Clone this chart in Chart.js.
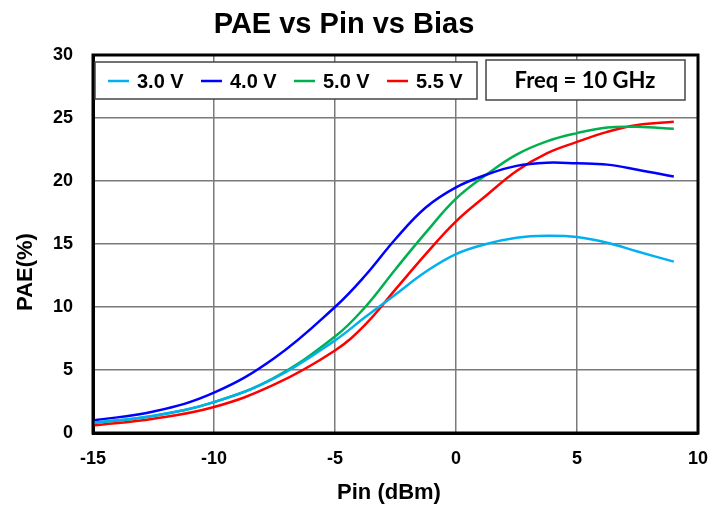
<!DOCTYPE html>
<html>
<head>
<meta charset="utf-8">
<script src="https://cdn.jsdelivr.net/npm/chart.js@4.4.0/dist/chart.umd.min.js"></script>
<style>
  html, body { margin: 0; padding: 0; background: #fff; }
  #wrap { width: 724px; height: 506px; position: relative; }
</style>
</head>
<body>
<div id="wrap"><canvas id="chartPae"></canvas></div>
<script>
  var pin = [-15, -12.5, -10, -7.5, -5, -3.75, -2.5, -1.25, 0, 1.25, 2.5, 3.75, 5, 6.25, 7.5, 9];
  var pae30 = [0.8, 1.37, 2.45, 4.35, 7.35, 9.2, 11.0, 12.8, 14.2, 15.0, 15.5, 15.65, 15.55, 15.1, 14.4, 13.6];
  var pae40 = [1.0, 1.7, 3.2, 5.95, 10.0, 12.5, 15.4, 17.9, 19.5, 20.5, 21.2, 21.45, 21.4, 21.3, 20.9, 20.35];
  var pae50 = [0.8, 1.35, 2.45, 4.4, 7.65, 10.0, 13.0, 15.9, 18.6, 20.5, 22.1, 23.15, 23.8, 24.25, 24.3, 24.15];
  var pae55 = [0.6, 1.13, 2.06, 3.85, 6.55, 8.6, 11.4, 14.2, 16.8, 18.85, 20.8, 22.2, 23.1, 23.9, 24.45, 24.7];
  var seriesLabels = ['3.0 V', '4.0 V', '5.0 V', '5.5 V'];
  var seriesColors = ['#00B0F0', '#0000FF', '#00B050', '#FF0000'];
  var xTicks = [-15, -10, -5, 0, 5, 10];
  var yTicks = [0, 5, 10, 15, 20, 25, 30];
  var titleText = 'PAE vs Pin vs Bias';
  var freqText = 'Freq = 10 GHz';
  var xTitle = 'Pin (dBm)';
  var yTitle = 'PAE(%)';

  var ARIAL = "'Liberation Sans', Arial, sans-serif";

  function toPoints(vals) {
    return pin.map(function(x, i) { return { x: x, y: vals[i] }; });
  }

  var allSeries = [pae30, pae40, pae50, pae55];

  /* title, axis titles, plot frame, legend box and freq note */
  var decorPlugin = {
    id: 'decor',
    afterDatasetsDraw: function(chart) {
      var ctx = chart.ctx;
      var a = chart.chartArea;
      ctx.save();

      // plot frame
      ctx.strokeStyle = '#000';
      ctx.lineWidth = 3;
      ctx.strokeRect(a.left, a.top, a.right - a.left, a.bottom - a.top);

      // title
      ctx.fillStyle = '#000';
      ctx.font = 'bold 29px ' + ARIAL;
      ctx.textAlign = 'center';
      ctx.textBaseline = 'middle';
      ctx.fillText(titleText, 344, 25);

      // axis titles
      ctx.font = 'bold 22px ' + ARIAL;
      ctx.fillText(xTitle, 389, 493);
      ctx.save();
      ctx.translate(26, 272);
      ctx.rotate(-Math.PI / 2);
      ctx.fillText(yTitle, 0, 0);
      ctx.restore();

      // legend box
      ctx.fillStyle = '#fff';
      ctx.fillRect(95, 62, 382, 37);
      ctx.strokeStyle = '#444';
      ctx.lineWidth = 1.5;
      ctx.strokeRect(95, 62, 382, 37);

      var itemX = [108, 201, 294, 387];
      ctx.font = 'bold 20px ' + ARIAL;
      ctx.textAlign = 'left';
      chart.data.datasets.forEach(function(ds, i) {
        ctx.strokeStyle = ds.borderColor;
        ctx.lineWidth = 2.5;
        ctx.beginPath();
        ctx.moveTo(itemX[i], 81);
        ctx.lineTo(itemX[i] + 21, 81);
        ctx.stroke();
        ctx.fillStyle = '#000';
        ctx.fillText(ds.label, itemX[i] + 29, 82);
      });

      // freq box
      ctx.fillStyle = '#fff';
      ctx.fillRect(486, 60, 199, 40);
      ctx.strokeStyle = '#444';
      ctx.lineWidth = 1.5;
      ctx.strokeRect(486, 60, 199, 40);
      ctx.fillStyle = '#000';
      ctx.font = 'bold 22px Lato, sans-serif';
      ctx.textAlign = 'center';
      ctx.fillText(freqText, 585, 81);

      ctx.restore();
    }
  };

  new Chart(document.getElementById('chartPae'), {
    type: 'line',
    data: {
      datasets: allSeries.map(function(vals, i) {
        return {
          label: seriesLabels[i],
          data: toPoints(vals),
          borderColor: seriesColors[i],
          backgroundColor: seriesColors[i],
          borderWidth: 2.5,
          pointRadius: 0,
          fill: false,
          tension: 0.4
        };
      })
    },
    options: {
      responsive: true,
      maintainAspectRatio: false,
      animation: false,
      layout: { padding: { top: 55, right: 26, left: 0, bottom: 0 } },
      plugins: {
        legend: { display: false },
        title: { display: false },
        tooltip: { enabled: false }
      },
      scales: {
        x: {
          type: 'linear',
          min: -15,
          max: 10,
          afterBuildTicks: function(scale) {
            scale.ticks = xTicks.map(function(v) { return { value: v }; });
          },
          afterFit: function(scale) { scale.height = 73; },
          grid: { color: '#7a7a7a', lineWidth: 1.5, drawTicks: false },
          border: { display: true, color: '#000', width: 3 },
          ticks: {
            color: '#000',
            padding: 15,
            font: { family: ARIAL, size: 18, weight: 'bold' }
          }
        },
        y: {
          type: 'linear',
          min: 0,
          max: 30,
          afterBuildTicks: function(scale) {
            scale.ticks = yTicks.map(function(v) { return { value: v }; });
          },
          afterFit: function(scale) { scale.width = 93; },
          grid: { color: '#7a7a7a', lineWidth: 1.5, drawTicks: false },
          border: { display: true, color: '#000', width: 3 },
          ticks: {
            color: '#000',
            padding: 20,
            font: { family: ARIAL, size: 18, weight: 'bold' }
          }
        }
      }
    },
    plugins: [decorPlugin]
  });
</script>
</body>
</html>
